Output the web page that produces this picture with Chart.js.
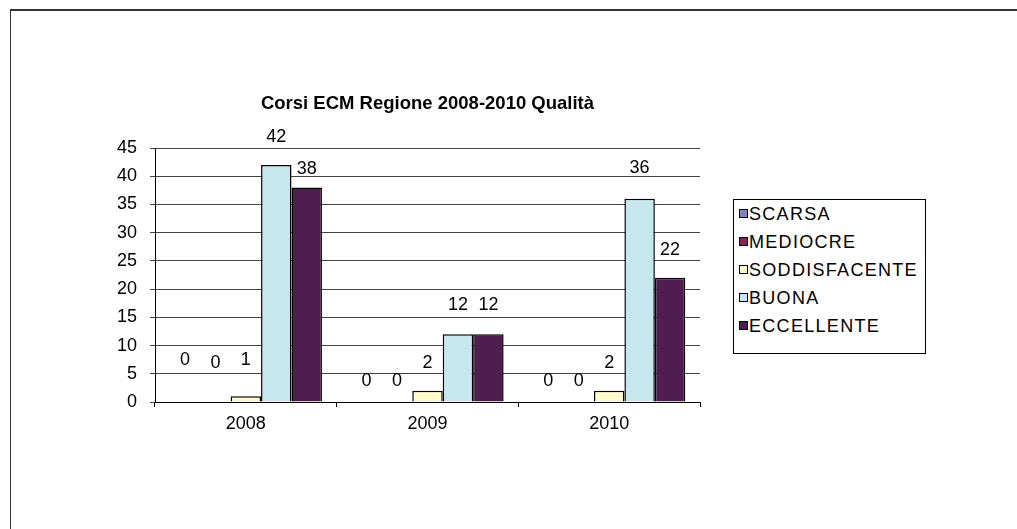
<!DOCTYPE html>
<html>
<head>
<meta charset="utf-8">
<script src="https://cdn.jsdelivr.net/npm/chart.js@4/dist/chart.umd.min.js"></script>
<style>
    body { margin: 0; background: #fff; }
    .frame {
        position: absolute; left: 10px; top: 9px; width: 1100px; height: 600px;
        border-left: 1px solid #333; border-top: 2px solid #333;
    }
    .wrap { position: absolute; left: 0; top: 0; width: 1017px; height: 529px; }
    .legend {
        position: absolute; left: 733px; top: 199px; width: 193px; height: 155px;
        border: 1px solid #000; background: #fff; box-sizing: border-box;
        font-family: "Liberation Sans", Arial, sans-serif; font-size: 18px; color: #000;
        padding-top: 0;
    }
    .legend-item { height: 28px; line-height: 28px; padding-left: 5px; white-space: nowrap; letter-spacing: 1.3px; }
    .legend-box {
        display: inline-block; width: 7px; height: 7px; border: 1px solid #000;
        margin-right: 1px; vertical-align: 2px;
    }
</style>
</head>
<body>
<div class="frame"></div>
<div class="wrap">
    <canvas id="chart" width="1017" height="529"></canvas>
    <div class="legend" id="legend"></div>
</div>
<script>
const chartTitle = 'Corsi ECM Regione 2008-2010 Qualità';
const years = ['2008', '2009', '2010'];
const seriesNames = ['SCARSA', 'MEDIOCRE', 'SODDISFACENTE', 'BUONA', 'ECCELLENTE'];
const scarsa = [0, 0, 0];
const mediocre = [0, 0, 0];
const soddisfacente = [1, 2, 2];
const buona = [42, 12, 36];
const eccellente = [38, 12, 22];
const yTicks = [0, 5, 10, 15, 20, 25, 30, 35, 40, 45];

const seriesColors = ['#8080C0', '#8C2050', '#FFFACC', '#C8E6EE', '#4F1D4F'];
// how far above the bar top each value label sits (px), like the Excel layout
const labelLift = [[42, 21, 21], [39, 21, 21], [36, 28, 28], [28, 29, 31], [18, 29, 28]];

const font = '"Liberation Sans", Arial, sans-serif';

const valueLabels = {
    id: 'valueLabels',
    afterDatasetsDraw(chart) {
        const ctx = chart.ctx;
        ctx.save();
        ctx.fillStyle = '#000';
        ctx.font = '18px ' + font;
        ctx.textAlign = 'center';
        ctx.textBaseline = 'middle';
        chart.data.datasets.forEach((ds, i) => {
            chart.getDatasetMeta(i).data.forEach((bar, j) => {
                ctx.fillText(String(ds.data[j]), bar.x, bar.y - labelLift[i][j]);
            });
        });
        // title centred over the plot area
        const area = chart.chartArea;
        ctx.font = 'bold 18.5px ' + font;
        ctx.fillText(chartTitle, (area.left + area.right) / 2, 104);
        ctx.restore();
    }
};

const ctx = document.getElementById('chart');
const chart = new Chart(ctx, {
    type: 'bar',
    data: {
        labels: years,
        datasets: [scarsa, mediocre, soddisfacente, buona, eccellente].map((vals, i) => ({
            label: seriesNames[i],
            data: vals,
            backgroundColor: seriesColors[i],
            borderColor: '#000',
            borderWidth: 1.5,
            categoryPercentage: 0.838,
            barPercentage: 1
        }))
    },
    options: {
        responsive: false,
        animation: false,
        layout: { padding: { left: 0, top: 148, right: 317, bottom: 0 } },
        plugins: {
            legend: { display: false },
            title: { display: false },
            tooltip: { enabled: false }
        },
        scales: {
            x: {
                grid: {
                    drawOnChartArea: false,
                    tickLength: 5,
                    color: '#000',
                    offset: true
                },
                border: { color: '#000', width: 1 },
                ticks: { color: '#000', font: { family: font, size: 18 }, padding: 6 },
                afterFit(scale) { scale.height = 127; }
            },
            y: {
                min: 0,
                max: 45,
                afterBuildTicks(scale) { scale.ticks = yTicks.map(v => ({ value: v })); },
                grid: { color: '#444', tickLength: 5 },
                border: { color: '#000', width: 1 },
                ticks: { color: '#000', font: { family: font, size: 18 }, padding: 13 },
                afterFit(scale) { scale.width = 155; }
            }
        }
    },
    plugins: [valueLabels]
});

// legend with a border box, built from the datasets
const legend = document.getElementById('legend');
chart.data.datasets.forEach(ds => {
    const item = document.createElement('div');
    item.className = 'legend-item';
    item.innerHTML = `<span class="legend-box" style="background:${ds.backgroundColor}"></span>${ds.label}`;
    legend.appendChild(item);
});
</script>
</body>
</html>
